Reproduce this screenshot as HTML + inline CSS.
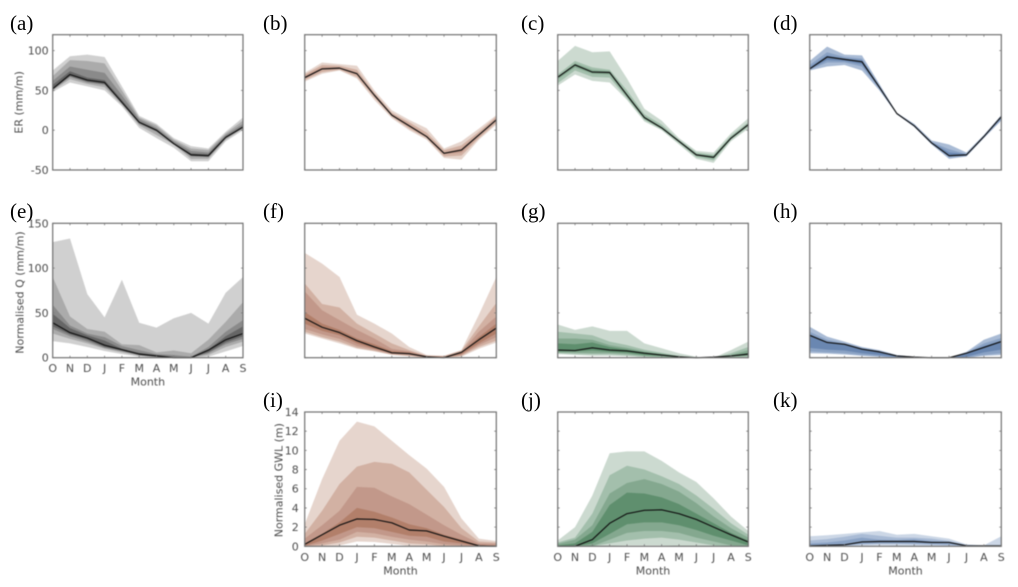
<!DOCTYPE html>
<html lang="en">
<head>
<meta charset="utf-8">
<title>Monthly ER, Q and GWL ensemble panels</title>
<style>
html,body{margin:0;padding:0;background:#fff;width:1018px;height:587px;overflow:hidden}
#chart{display:block}
.panel{filter:blur(0.4px)}
.tick{font:11px "DejaVu Sans","Liberation Sans",sans-serif;fill:#4d4d4d}
.axis-title{font:11px "DejaVu Sans","Liberation Sans",sans-serif;fill:#4d4d4d}
.letter{font:21px "Liberation Serif",serif;fill:#000}
</style>
</head>
<body>
<svg id="chart" xmlns="http://www.w3.org/2000/svg" width="1018" height="587" viewBox="0 0 1018 587"></svg>
<script>
const months = ["O","N","D","J","F","M","A","M","J","J","A","S"];
const erTicks = [100,50,0,-50];
const qTicks = [150,100,50,0];
const gwlTicks = [14,12,10,8,6,4,2,0];

const aMedian = [52,70,63,60,35,10,0,-17,-31,-32,-9,4];
const aUpper = [[75,93,95,92,55,18,8,-10,-20,-23,-2,16],[68,88,87,84,50,16,6,-12,-23,-25,-4,12],[62,80,76,72,44,14,3,-14,-26,-28,-6,8],[57,74,66,63,38,11,1,-16,-29,-30,-8,5]];
const aLower = [[48,60,55,50,30,3,-10,-22,-39,-39,-14,0],[50,64,58,54,32,6,-6,-18,-36,-36,-12,2],[51,67,60,57,34,8,-2,-17,-33,-34,-10,3],[51,68,61,58,35,9,-1,-17,-32,-33,-10,3]];

const bMedian = [66,77,78,71,44,19,5.5,-8,-29,-25,-6,13];
const bUpper = [[72,85,83,81,50,25,13,2.5,-23,-14,2,19],[70,82,81,76,47,22,10,-3,-25,-19,-2,17],[68,79,79,72,45,20,7,-7,-28,-23,-5,14]];
const bLower = [[61,71,75,65,38,15,0,-12,-35,-37,-12,7],[63,73,76,67,41,17,2,-10,-33,-32,-10,9],[65,76,77,70,43,18,5,-9,-30,-28,-7,12]];

const cMedian = [66.5,82,73,72.5,44,16,3,-14,-31,-34,-10,7];
const cUpper = [[87,106,98,99,65,27,12,-10,-26,-28,-4,15],[70,87,79,76,50,20,7,-12,-28,-31,-7,10],[67,84,76,74,46,17,4,-13,-30,-32,-9,8]];
const cLower = [[56,70,62,60,38,11,0,-18,-36,-41,-14,2],[59,75,67,66,40,13,1,-16,-34,-38,-12,4],[64,79,71,70,42,14,2,-15,-32,-36,-11,6]];

const dMedian = [77,92,89,86,54,21,5.5,-16,-32,-31,-8,17];
const dUpper = [[87,105,95,94,58,22,8,-13,-18,-28,-6,19],[82,98,92,90,56,21,7,-15,-24,-30,-7,18],[79,94,90,88,55,21,6,-15,-28,-30,-7,17.5]];
const dLower = [[75,80,82,75,50,20,4,-18,-36,-33,-10,12],[76,85,85,80,52,20,5,-17,-34,-32,-9,14],[77,88,87,83,53,20.5,5,-17,-33,-32,-8.5,15]];

const eMedian = [39,28,22,14,9,4,2,0,0,8.5,20,27];
const eUpper = [[129,133,71,45,87,39,33.5,44,50,38,72.5,90],[90,46,32,29,15,14,6,8,5,20,40,62],[59,36,27,23,13,8.5,4,3,1,12,29,42],[49,33,25,19,10,5.5,3,1,0,9,24,35]];
const eLower = [[18.5,16,12,7.5,4,1,0,0,0,1,7,13],[27,21,16,10,6,2,0,0,0,3,12,18],[32,24,18,11,7,3,1,0,0,5,15,21],[35,26,20,12,8,3,1,0,0,6,17,24]];

const fMedian = [44,34,28,19,12,5.5,4.5,1,0,6,20,33];
const fUpper = [[117,105,90,48,38,27,12,3,2,8.5,48,90],[83,60,56,38,27,16,8.5,2,2,8,35,61],[74,53,42,31,21.5,10,7,2,1,6.7,29,46],[51,38,31,21.5,15,7.5,6,1.5,1,6,23,38]];
const fLower = [[27,21.5,16,10,7,3,1.5,0,0,1,10,17],[29,23,18,11,7.5,3.5,2,0,0,2,12,19],[32,26,21,13,9,4,3,0,0,3,14,23],[38,30,25,16,10,5,4,0.5,0,4,16,27]];

const gMedian = [8.5,8,11,8.5,7.5,5,3,1,0,0.7,2,4];
const gUpper = [[37,31,35,30,30,16,10.5,5,1,0,8.5,18],[29,27,25,18,14,9,5.5,2,0,0,5,12],[21.5,21.5,20,14,11,7,4.5,1.5,0,0,3,8.5],[16,15,17,12,9,6,3.5,1,0,0,2,5.5]];
const gLower = [[4,3,2,2,1.5,0.5,0,0,0,0,0,0.5],[5,4,3.5,3.5,2.5,1,0.5,0,0,0,0.5,1],[6,5.5,5,5,4,2,1,0,0,0,1,2],[7,7,8,6.5,5.5,3,2,0.5,0,0,1.5,3]];

const hMedian = [25,17,15,9.5,6.5,2,0.7,0,0,5,11.5,18];
const hUpper = [[34.5,23.5,18,12,8.5,3,1,0,0,6.5,20,27],[29,20,16,11,7.5,2.5,1,0,0,5.5,16,22],[26,18,15,10,7,2,0.8,0,0,5,13,19]];
const hLower = [[5,4.5,3.5,2,1,0,0,0,0,0,2,3],[7,6,5,3,1.5,0,0,0,0,0.5,3,5],[11,9,8,5,3,1,0,0,0,1,6,9]];

const iMedian = [0.2,1.2,2.2,2.85,2.8,2.45,1.7,1.6,1.05,0.55,0.05,0];
const iUpper = [[2.3,7,11,13,12.5,11,9.5,8.1,6.2,2.9,0.8,0.55],[1.3,3.7,6.5,8.3,8.8,8.6,7.7,5.9,4.1,1.9,0.5,0.4],[0.8,2.2,3.7,6.2,6.1,5.2,4.4,3.3,2.2,1.2,0.3,0.25],[0.3,1.3,2.5,4,3.6,3,2.3,1.9,1.2,0.7,0.15,0.1]];
const iLower = [[0,0,0.1,0.5,0.45,0.25,0.05,0,0,0,0,0],[0,0.1,0.4,1,0.9,0.6,0.3,0.2,0,0,0,0],[0,0.3,0.7,1.5,1.35,1,0.7,0.5,0.2,0.1,0,0],[0.05,0.6,1.3,2,1.9,1.5,1.1,1,0.5,0.3,0,0]];

const jMedian = [0,0,0.7,2.4,3.4,3.75,3.8,3.4,2.8,2,1.2,0.45];
const jUpper = [[0.6,2,5.3,9.7,9.9,9.9,8.9,7.7,6.7,5,3.1,1.6],[0.4,0.9,3.4,7.4,8.4,8,7.3,6.5,5.3,3.9,2.4,1.2],[0.25,0.7,2.2,5.5,6.6,7,6.5,5.7,4.5,3.1,1.9,0.9],[0.1,0.3,1.5,4.3,5.6,5.5,5.1,4.4,3.4,2.4,1.4,0.6]];
const jLower = [[0,0,0,0,0.1,0.1,0.1,0,0,0,0,0],[0,0,0,0.3,0.6,0.8,0.9,0.7,0.4,0.1,0,0],[0,0,0,0.7,1.4,1.6,1.6,1.4,0.9,0.5,0.1,0],[0,0,0.3,1.3,2.3,2.5,2.5,2.2,1.7,1.1,0.6,0.1]];

const kMedian = [0.05,0.1,0.15,0.45,0.5,0.5,0.5,0.4,0.4,0.05,0.05,0.05];
const kUpper = [[1.05,1.15,1.3,1.45,1.6,1.2,1.3,1.05,0.8,0.2,0.1,1.05],[0.6,0.75,1,1.3,1.1,0.9,0.9,0.8,0.55,0.15,0.08,0.1],[0.3,0.4,0.6,0.9,0.7,0.65,0.75,0.55,0.45,0.1,0.06,0.07]];
const kLower = [[0,0,0,0.05,0.1,0.05,0.05,0,0,0,0,0],[0,0,0.05,0.2,0.25,0.25,0.2,0.15,0.1,0,0,0],[0,0.02,0.1,0.25,0.3,0.3,0.3,0.25,0.2,0.02,0,0]];

const greys = ["#d0d0d0","#ababab","#8a8a8a","#666666"];
const browns = ["#e6d5cd","#d2b1a3","#c2988a","#b27f6a"];
const greens = ["#ccdad0","#a3bfac","#84a88f","#5f8f6e"];
const blues = ["#ccd7e6","#a9bbd5","#8aa2c4","#6a87b1"];

const columns = [[52.7,243],[304.7,496.3],[557.7,748.3],[809.7,1001.3]];
const rows = [[34.7,170],[223.3,357.7],[412,546.3]];
const letterX = [10,263,521,773];
const letterBaseline = [30,218,407];
const erRange = [-50,120];
const qRange = [0,150];
const gwlRange = [0,14];

const panels = [
  {letter:"(a)",col:0,row:0,range:erRange,ticks:erTicks,colors:greys,median:aMedian,upper:aUpper,lower:aLower,yLabels:true,labelGap:4,xLabels:false,yTitle:"ER (mm/m)",titleGap:30,titleShift:0},
  {letter:"(b)",col:1,row:0,range:erRange,ticks:erTicks,colors:browns,median:bMedian,upper:bUpper,lower:bLower},
  {letter:"(c)",col:2,row:0,range:erRange,ticks:erTicks,colors:greens,median:cMedian,upper:cUpper,lower:cLower},
  {letter:"(d)",col:3,row:0,range:erRange,ticks:erTicks,colors:blues,colorStart:1,median:dMedian,upper:dUpper,lower:dLower},
  {letter:"(e)",col:0,row:1,range:qRange,ticks:qTicks,colors:greys,median:eMedian,upper:eUpper,lower:eLower,yLabels:true,labelGap:4,xLabels:true,yTitle:"Normalised Q (mm/m)",titleGap:29,titleShift:2},
  {letter:"(f)",col:1,row:1,range:qRange,ticks:qTicks,colors:browns,median:fMedian,upper:fUpper,lower:fLower},
  {letter:"(g)",col:2,row:1,range:qRange,ticks:qTicks,colors:greens,median:gMedian,upper:gUpper,lower:gLower},
  {letter:"(h)",col:3,row:1,range:qRange,ticks:qTicks,colors:blues,colorStart:1,median:hMedian,upper:hUpper,lower:hLower},
  {letter:"(i)",col:1,row:2,range:gwlRange,ticks:gwlTicks,colors:browns,median:iMedian,upper:iUpper,lower:iLower,yLabels:true,labelGap:6,xLabels:true,yTitle:"Normalised GWL (m)",titleGap:22,titleShift:1},
  {letter:"(j)",col:2,row:2,range:gwlRange,ticks:gwlTicks,colors:greens,median:jMedian,upper:jUpper,lower:jLower,xLabels:true},
  {letter:"(k)",col:3,row:2,range:gwlRange,ticks:gwlTicks,colors:blues,median:kMedian,upper:kUpper,lower:kLower,xLabels:true}
];

const svg = document.getElementById("chart");
const NS = "http://www.w3.org/2000/svg";

function make(tag, attrs, parent, text) {
  const el = document.createElementNS(NS, tag);
  for (const key in attrs) el.setAttribute(key, attrs[key]);
  if (text !== undefined) el.textContent = text;
  parent.appendChild(el);
  return el;
}

function xAxis(left, right) {
  return function (index) { return left + (right - left) * index / (months.length - 1); };
}

function yAxis(top, bottom, range) {
  return function (value) { return bottom - (bottom - top) * (value - range[0]) / (range[1] - range[0]); };
}

function linePoints(values, x, y) {
  return values.map(function (v, i) { return x(i).toFixed(2) + "," + y(v).toFixed(2); });
}

panels.forEach(function (p) {
  const left = columns[p.col][0], right = columns[p.col][1];
  const top = rows[p.row][0], bottom = rows[p.row][1];
  const x = xAxis(left, right);
  const y = yAxis(top, bottom, p.range);
  const key = p.letter.charAt(1);
  const colorStart = p.colorStart || 0;

  const group = make("g", {"class": "panel"}, svg);
  
  

  const letter = make("text", {x: letterX[p.col], y: letterBaseline[p.row], "class": "letter"}, svg, p.letter);
  
  

  p.upper.forEach(function (upper, b) {
    const pts = linePoints(upper, x, y).concat(linePoints(p.lower[b], x, y).reverse());
    const band = make("polygon", {points: pts.join(" "), fill: p.colors[b + colorStart]}, group);
    
    
  });

  const median = make("polyline", {points: linePoints(p.median, x, y).join(" "), fill: "none", stroke: "#111", "stroke-width": 1.15, "stroke-linejoin": "round"}, group);
  
  

  const frame = make("rect", {x: left, y: top, width: right - left, height: bottom - top, fill: "none", stroke: "#707070", "stroke-width": 1.2}, group);
  
  

  months.forEach(function (m, i) {
    const xp = x(i);
    const tickPath = "M" + xp + " " + bottom + "v-2M" + xp + " " + top + "v2";
    const tick = make("path", {d: tickPath, stroke: "#777", "stroke-width": 0.8, fill: "none"}, group);
    
    
    if (p.xLabels) {
      const label = make("text", {x: xp, y: bottom + 14.5, "text-anchor": "middle", "class": "tick"}, group, m);
      
      
    }
  });

  p.ticks.forEach(function (t) {
    const yp = y(t);
    const tickPath = "M" + left + " " + yp + "h2M" + right + " " + yp + "h-2";
    const tick = make("path", {d: tickPath, stroke: "#777", "stroke-width": 0.8, fill: "none"}, group);
    
    
    if (p.yLabels) {
      const label = make("text", {x: left - p.labelGap, y: yp + 4, "text-anchor": "end", "class": "tick"}, group, t);
      
      
    }
  });

  if (p.xLabels) {
    const xTitle = make("text", {x: (left + right) / 2, y: bottom + 28, "text-anchor": "middle", "class": "axis-title"}, group, "Month");
    
    
  }

  if (p.yTitle) {
    const tx = left - p.titleGap;
    const ty = (top + bottom) / 2 + p.titleShift;
    const yTitle = make("text", {x: tx, y: ty, "text-anchor": "middle", "class": "axis-title", transform: "rotate(-90 " + tx + " " + ty + ")"}, group, p.yTitle);
    
    
  }
});
</script>
</body>
</html>
